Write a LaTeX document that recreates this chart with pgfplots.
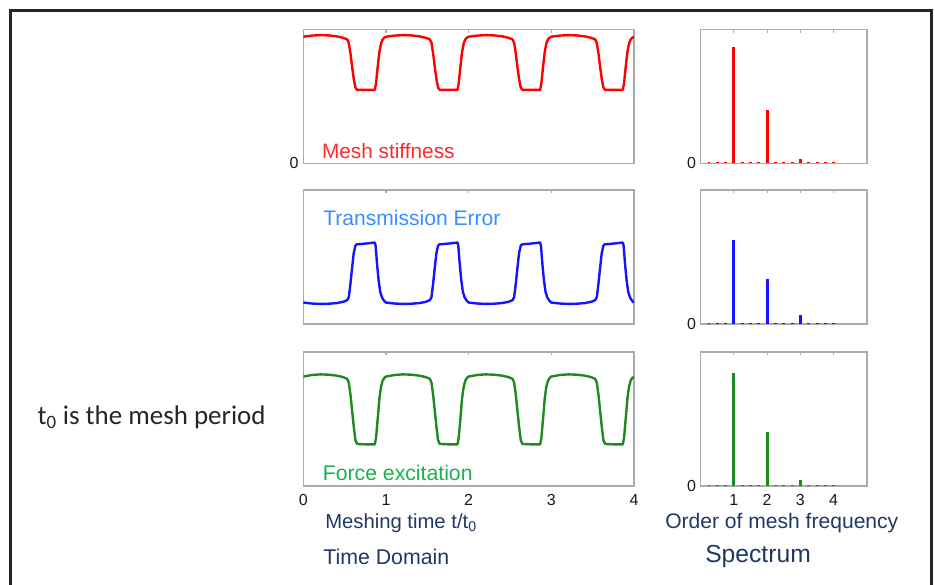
\documentclass[border=0pt]{standalone}
\usepackage{pgfplots}
\pgfplotsset{compat=1.18}
\usepackage{fontspec}
\setmainfont{Liberation Sans}
\newfontfamily\calfont{Carlito}
\definecolor{cRed}{HTML}{FF0000}
\definecolor{tRed}{HTML}{FF2A2A}
\definecolor{cBlue}{HTML}{1414FF}
\definecolor{tBlue}{HTML}{3A8DFF}
\definecolor{cGreen}{HTML}{1F8A1F}
\definecolor{tGreen}{HTML}{19B24B}
\definecolor{navy}{HTML}{1F3864}
\definecolor{axgray}{HTML}{ABABAB}
\pgfplotsset{
  panel/.style={
    scale only axis, clip=true,
    axis line style={axgray, line width=1.2pt},
    tick style={axgray, line width=0.8pt},
    major tick length=2.5pt,
    tick align=inside,
    xtick pos=upper, xticklabel pos=lower,
    ymin=0, ymax=1,
    /pgf/number format/assume math mode=true,
    ticklabel style={font=\fontsize{12}{13}\selectfont, text=black!90},
    ytick style={draw=none},
  },
  timep/.style={panel, width=248pt, height=100.5pt, xmin=0, xmax=4, xtick={0,1,2,3,4}},
  specp/.style={panel, width=124.7pt, height=100.5pt, xmin=0, xmax=5, xtick={1,2,3,4}, ytick={0}, yticklabels={0}},
  stem/.style={ycomb, line width=2.2pt, mark=none},
  curve/.style={line width=1.8pt, line join=round, mark=none},
}
\begin{document}
\begin{tikzpicture}
\path[use as bounding box] (0,0) rectangle (701.25pt,-438.75pt);
\draw[line width=2.2pt, black!85] (7.9pt,-445pt) -- (7.9pt,-7.6pt) -- (698.6pt,-7.6pt) -- (698.6pt,-445pt);

% ---------- Time domain: mesh stiffness ----------
\begin{axis}[timep, at={(227.5pt,-122.5pt)}, anchor=south west,
  xticklabels={}, ytick={0}, yticklabels={0}]
\addplot[curve, cRed] coordinates {
(0.00,0.945)(0.10,0.953)(0.20,0.957)(0.30,0.955)(0.40,0.948)(0.48,0.937)(0.53,0.925)(0.55,0.90)(0.57,0.82)(0.59,0.72)(0.61,0.63)(0.63,0.565)(0.65,0.548)(0.75,0.548)(0.865,0.548)(0.88,0.60)(0.90,0.72)(0.92,0.83)(0.94,0.895)(0.96,0.925)(0.98,0.938)
(1.00,0.945)(1.10,0.953)(1.20,0.957)(1.30,0.955)(1.40,0.948)(1.48,0.937)(1.53,0.925)(1.55,0.90)(1.57,0.82)(1.59,0.72)(1.61,0.63)(1.63,0.565)(1.65,0.548)(1.75,0.548)(1.865,0.548)(1.88,0.60)(1.90,0.72)(1.92,0.83)(1.94,0.895)(1.96,0.925)(1.98,0.938)
(2.00,0.945)(2.10,0.953)(2.20,0.957)(2.30,0.955)(2.40,0.948)(2.48,0.937)(2.53,0.925)(2.55,0.90)(2.57,0.82)(2.59,0.72)(2.61,0.63)(2.63,0.565)(2.65,0.548)(2.75,0.548)(2.865,0.548)(2.88,0.60)(2.90,0.72)(2.92,0.83)(2.94,0.895)(2.96,0.925)(2.98,0.938)
(3.00,0.945)(3.10,0.953)(3.20,0.957)(3.30,0.955)(3.40,0.948)(3.48,0.937)(3.53,0.925)(3.55,0.90)(3.57,0.82)(3.59,0.72)(3.61,0.63)(3.63,0.565)(3.65,0.548)(3.75,0.548)(3.865,0.548)(3.88,0.60)(3.90,0.72)(3.92,0.83)(3.94,0.895)(3.96,0.925)(3.98,0.938)(4.00,0.945)
};
\end{axis}

% ---------- Time domain: transmission error ----------
\begin{axis}[timep, at={(227.5pt,-243pt)}, anchor=south west,
  xticklabels={}, ytick=\empty]
\addplot[curve, cBlue] coordinates {
(0.00,0.160)(0.10,0.153)(0.20,0.150)(0.30,0.151)(0.40,0.156)(0.48,0.165)(0.53,0.178)(0.55,0.20)(0.57,0.30)(0.59,0.42)(0.61,0.53)(0.63,0.585)(0.645,0.594)(0.75,0.600)(0.865,0.608)(0.875,0.58)(0.89,0.46)(0.91,0.33)(0.93,0.24)(0.95,0.20)(0.97,0.18)(0.985,0.168)
(1.00,0.160)(1.10,0.153)(1.20,0.150)(1.30,0.151)(1.40,0.156)(1.48,0.165)(1.53,0.178)(1.55,0.20)(1.57,0.30)(1.59,0.42)(1.61,0.53)(1.63,0.585)(1.645,0.594)(1.75,0.600)(1.865,0.608)(1.875,0.58)(1.89,0.46)(1.91,0.33)(1.93,0.24)(1.95,0.20)(1.97,0.18)(1.985,0.168)
(2.00,0.160)(2.10,0.153)(2.20,0.150)(2.30,0.151)(2.40,0.156)(2.48,0.165)(2.53,0.178)(2.55,0.20)(2.57,0.30)(2.59,0.42)(2.61,0.53)(2.63,0.585)(2.645,0.594)(2.75,0.600)(2.865,0.608)(2.875,0.58)(2.89,0.46)(2.91,0.33)(2.93,0.24)(2.95,0.20)(2.97,0.18)(2.985,0.168)
(3.00,0.160)(3.10,0.153)(3.20,0.150)(3.30,0.151)(3.40,0.156)(3.48,0.165)(3.53,0.178)(3.55,0.20)(3.57,0.30)(3.59,0.42)(3.61,0.53)(3.63,0.585)(3.645,0.594)(3.75,0.600)(3.865,0.608)(3.875,0.58)(3.89,0.46)(3.91,0.33)(3.93,0.24)(3.95,0.20)(3.97,0.18)(3.985,0.168)(4.00,0.160)
};
\end{axis}

% ---------- Time domain: force excitation ----------
\begin{axis}[timep, at={(227.5pt,-364.3pt)}, anchor=south west,
  ytick=\empty, xticklabel style={yshift=-3pt}]
\addplot[curve, cGreen] coordinates {
(0.00,0.815)(0.10,0.826)(0.20,0.831)(0.30,0.829)(0.40,0.822)(0.48,0.811)(0.53,0.798)(0.55,0.77)(0.57,0.68)(0.59,0.56)(0.61,0.44)(0.63,0.34)(0.65,0.312)(0.75,0.309)(0.865,0.309)(0.88,0.36)(0.90,0.50)(0.92,0.65)(0.94,0.74)(0.96,0.785)(0.98,0.805)
(1.00,0.815)(1.10,0.826)(1.20,0.831)(1.30,0.829)(1.40,0.822)(1.48,0.811)(1.53,0.798)(1.55,0.77)(1.57,0.68)(1.59,0.56)(1.61,0.44)(1.63,0.34)(1.65,0.312)(1.75,0.309)(1.865,0.309)(1.88,0.36)(1.90,0.50)(1.92,0.65)(1.94,0.74)(1.96,0.785)(1.98,0.805)
(2.00,0.815)(2.10,0.826)(2.20,0.831)(2.30,0.829)(2.40,0.822)(2.48,0.811)(2.53,0.798)(2.55,0.77)(2.57,0.68)(2.59,0.56)(2.61,0.44)(2.63,0.34)(2.65,0.312)(2.75,0.309)(2.865,0.309)(2.88,0.36)(2.90,0.50)(2.92,0.65)(2.94,0.74)(2.96,0.785)(2.98,0.805)
(3.00,0.815)(3.10,0.826)(3.20,0.831)(3.30,0.829)(3.40,0.822)(3.48,0.811)(3.53,0.798)(3.55,0.77)(3.57,0.68)(3.59,0.56)(3.61,0.44)(3.63,0.34)(3.65,0.312)(3.75,0.309)(3.865,0.309)(3.88,0.36)(3.90,0.50)(3.92,0.65)(3.94,0.74)(3.96,0.785)(3.98,0.805)(4.00,0.812)
};
\end{axis}

% ---------- Spectra ----------
\begin{axis}[specp, at={(525.5pt,-122.5pt)}, anchor=south west, xticklabels={}]
\addplot[stem, cRed] coordinates {
(0.25,0.008)(0.5,0.008)(0.75,0.008)(1,0.865)(1.25,0.008)(1.5,0.008)(1.75,0.008)(2,0.40)(2.25,0.008)(2.5,0.008)(2.75,0.008)(3,0.035)(3.25,0.008)(3.5,0.008)(3.75,0.008)(4,0.008)
};
\end{axis}

\begin{axis}[specp, at={(525.5pt,-243pt)}, anchor=south west, xticklabels={}]
\addplot[stem, cBlue] coordinates {
(0.25,0.008)(0.5,0.008)(0.75,0.008)(1,0.626)(1.25,0.008)(1.5,0.008)(1.75,0.008)(2,0.336)(2.25,0.008)(2.5,0.008)(2.75,0.008)(3,0.068)(3.25,0.008)(3.5,0.008)(3.75,0.008)(4,0.008)
};
\end{axis}

\begin{axis}[specp, at={(525.5pt,-364.3pt)}, anchor=south west, xticklabel style={yshift=-3pt}]
\addplot[stem, cGreen] coordinates {
(0.25,0.008)(0.5,0.008)(0.75,0.008)(1,0.84)(1.25,0.008)(1.5,0.008)(1.75,0.008)(2,0.40)(2.25,0.008)(2.5,0.008)(2.75,0.008)(3,0.04)(3.25,0.008)(3.5,0.008)(3.75,0.008)(4,0.008)
};
\end{axis}

% ---------- Texts ----------
\node[anchor=base west, inner sep=0pt, text=tRed, font=\fontsize{15.6}{17}\selectfont] at (241.3pt,-118.5pt) {Mesh stiffness};
\node[anchor=base west, inner sep=0pt, text=tBlue, font=\fontsize{15.8}{17}\selectfont] at (242.3pt,-168.75pt) {Transmission Error};
\node[anchor=base west, inner sep=0pt, text=tGreen, font=\fontsize{15.9}{17}\selectfont] at (242pt,-360.5pt) {Force excitation};
\node[anchor=west, inner sep=0pt, text=navy, font=\fontsize{15.2}{17}\selectfont] at (243.75pt,-392.25pt) {Meshing time t/t\textsubscript{0}};
\node[anchor=west, inner sep=0pt, text=navy, font=\fontsize{16}{18}\selectfont] at (242.25pt,-417.5pt) {Time Domain};
\node[anchor=west, inner sep=0pt, text=navy, font=\fontsize{15.8}{17}\selectfont] at (498.75pt,-392.25pt) {Order of mesh frequency};
\node[anchor=west, inner sep=0pt, text=navy, font=\fontsize{18.5}{20}\selectfont] at (528.75pt,-417.5pt) {Spectrum};
\node[anchor=base west, inner sep=0pt, text=black!85, font=\calfont\fontsize{20.2}{22}\selectfont] at (28pt,-318.2pt) {t\textsubscript{0} is the mesh period};
\end{tikzpicture}
\end{document}
